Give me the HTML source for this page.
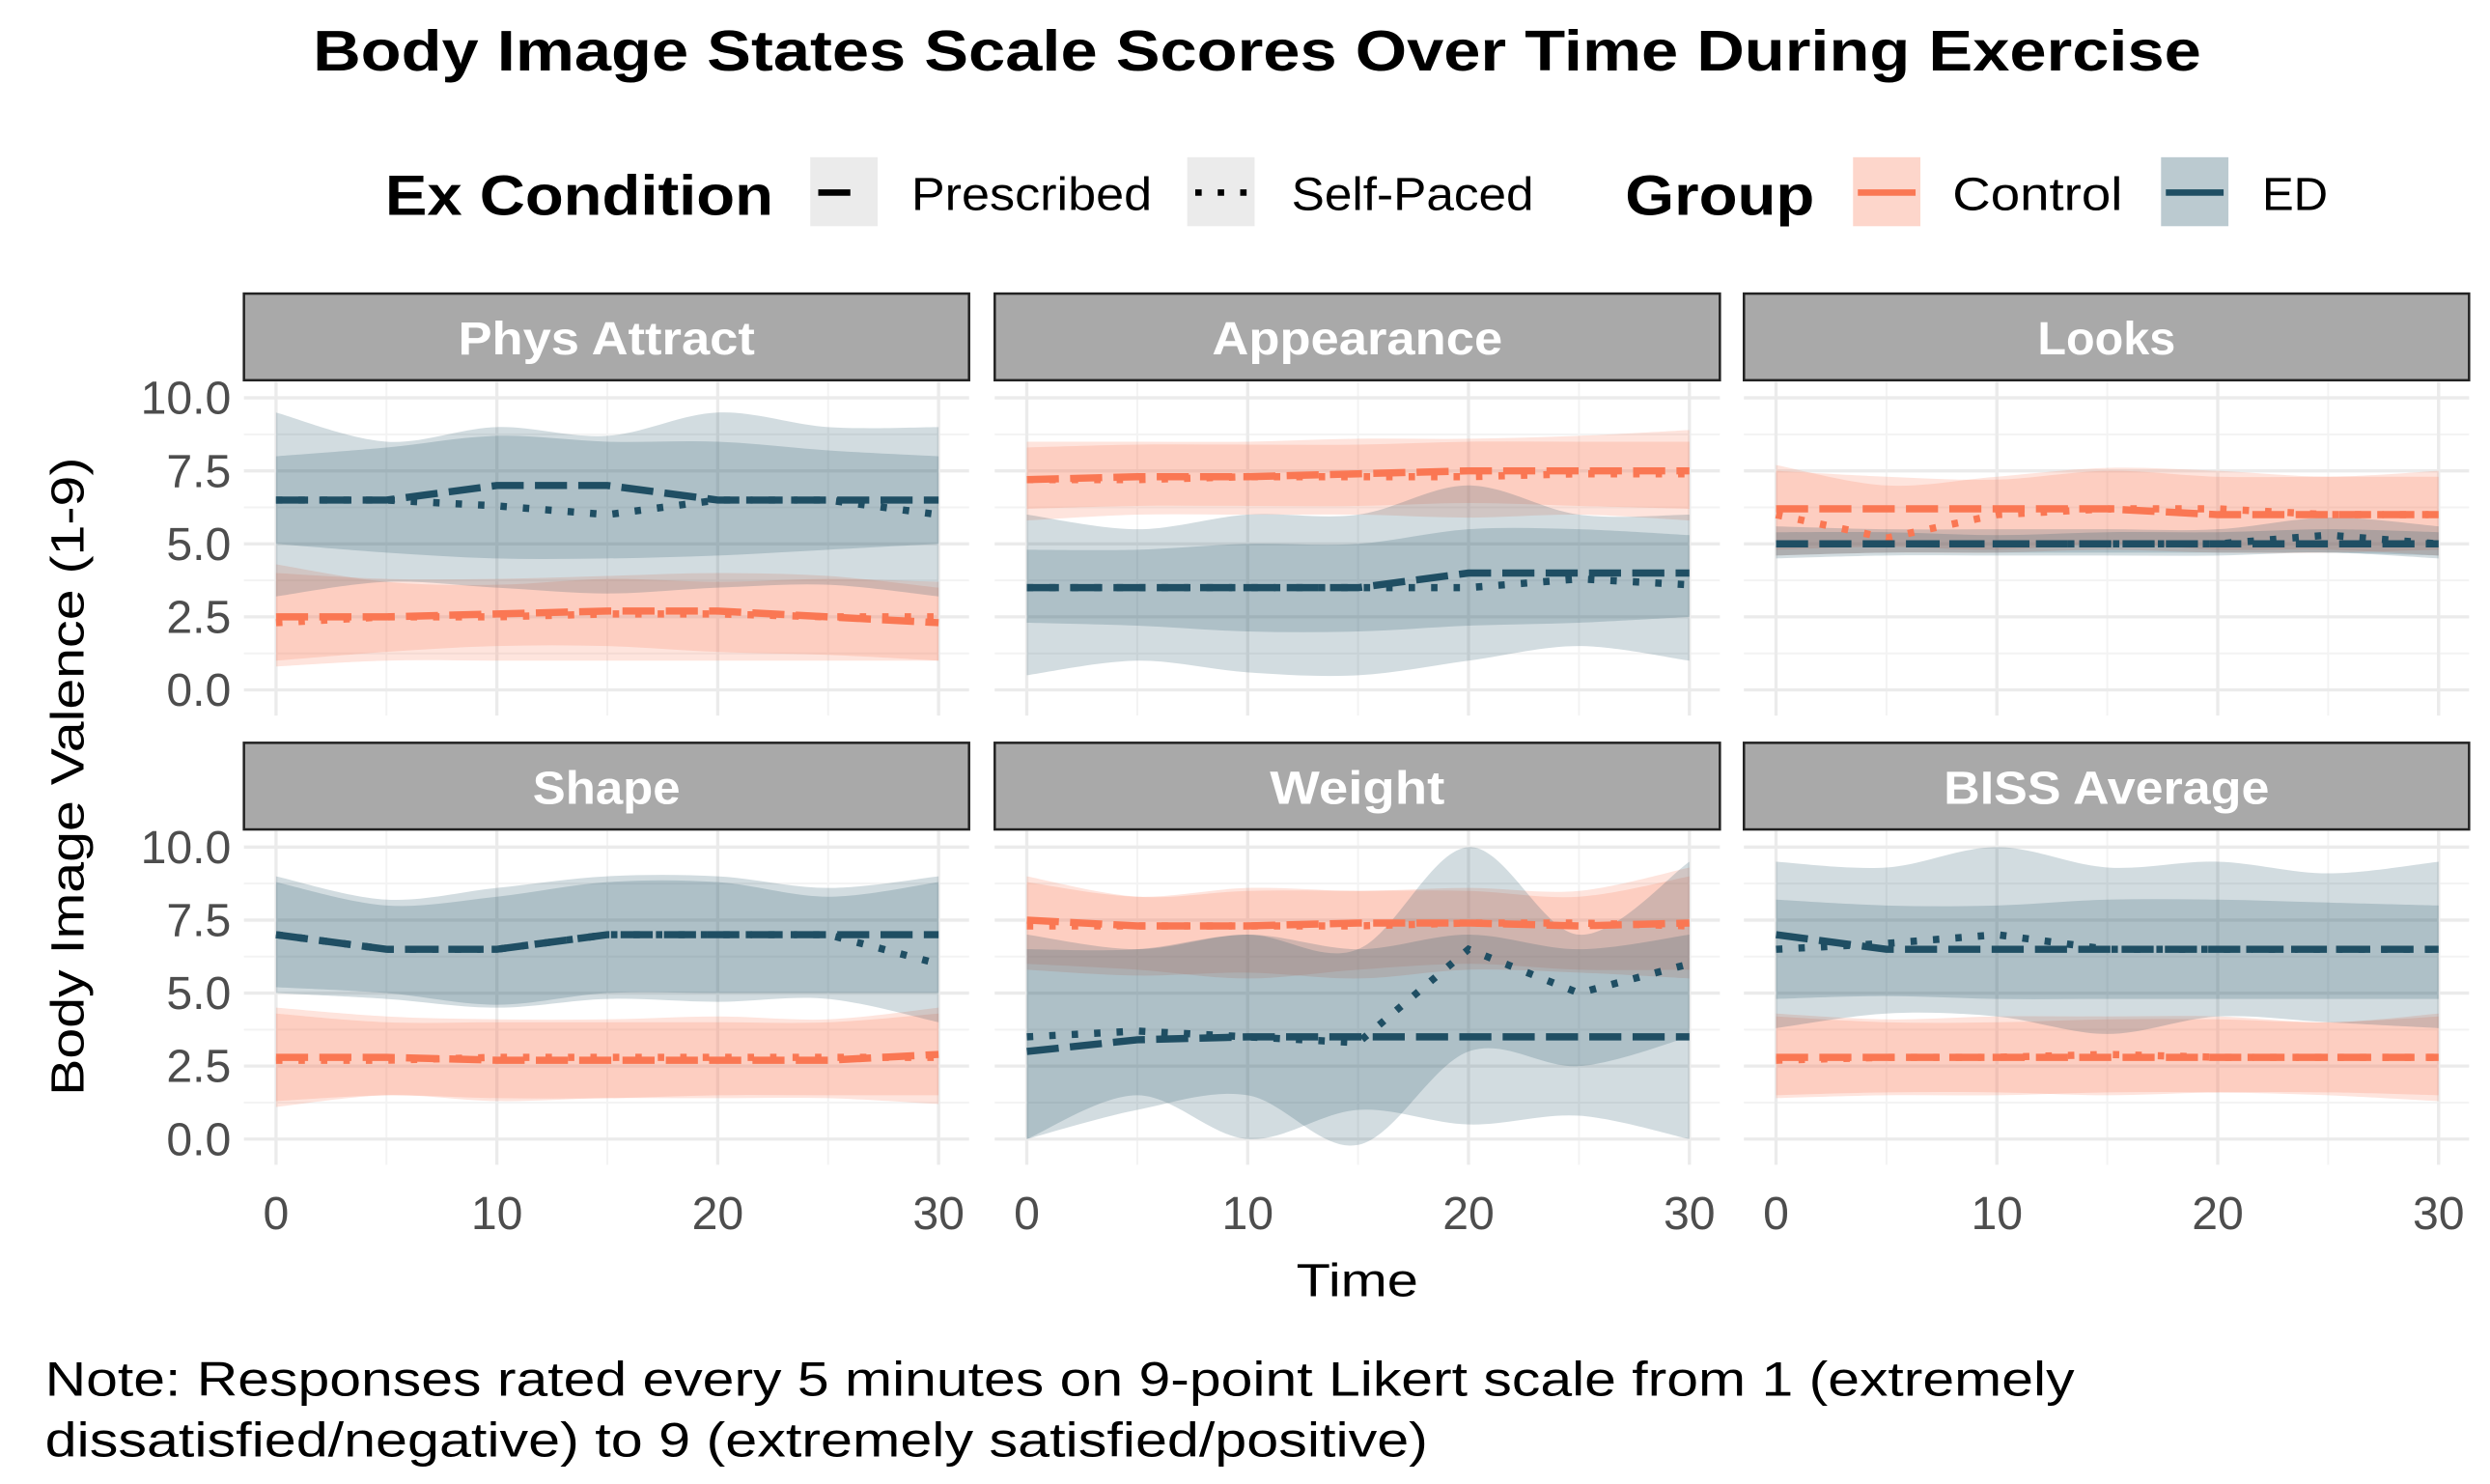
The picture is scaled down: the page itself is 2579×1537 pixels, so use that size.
<!DOCTYPE html>
<html><head><meta charset="utf-8"><style>
html,body{margin:0;padding:0;background:#fff}
svg{display:block}
text{font-family:"Liberation Sans",sans-serif}
</style></head><body>
<svg id="chart" width="2579" height="1537" viewBox="0 0 1552 925" xmlns="http://www.w3.org/2000/svg">
<text x="195" y="44" font-size="36" font-weight="bold" textLength="1177" lengthAdjust="spacingAndGlyphs">Body Image States Scale Scores Over Time During Exercise</text>
<g>
<text x="240" y="134" font-size="35" font-weight="bold" textLength="242" lengthAdjust="spacingAndGlyphs">Ex Condition</text>
<rect x="505" y="98" width="42" height="43" fill="#EBEBEB"/>
<line x1="510" y1="120" x2="530" y2="120" stroke="#000" stroke-width="4"/>
<text x="568" y="131" font-size="29" textLength="150" lengthAdjust="spacingAndGlyphs">Prescribed</text>
<rect x="740" y="98" width="42" height="43" fill="#EBEBEB"/>
<line x1="745" y1="120" x2="780" y2="120" stroke="#000" stroke-width="4" stroke-dasharray="4,10"/>
<text x="805" y="131" font-size="29" textLength="151" lengthAdjust="spacingAndGlyphs">Self-Paced</text>
<text x="1013" y="134" font-size="35" font-weight="bold" textLength="118" lengthAdjust="spacingAndGlyphs">Group</text>
<rect x="1155" y="98" width="42" height="43" fill="#FA7753" fill-opacity="0.3"/>
<line x1="1158" y1="120" x2="1194" y2="120" stroke="#FA7753" stroke-width="4"/>
<text x="1217" y="131" font-size="29" textLength="106" lengthAdjust="spacingAndGlyphs">Control</text>
<rect x="1347" y="98" width="42" height="43" fill="#1F4E63" fill-opacity="0.3"/>
<line x1="1350" y1="120" x2="1386" y2="120" stroke="#1F4E63" stroke-width="4"/>
<text x="1410" y="131" font-size="29" textLength="41" lengthAdjust="spacingAndGlyphs">ED</text>
</g>
<text transform="translate(52,683) rotate(-90)" font-size="29" textLength="398" lengthAdjust="spacingAndGlyphs">Body Image Valence (1-9)</text>
<text x="808" y="808" font-size="29" textLength="76" lengthAdjust="spacingAndGlyphs">Time</text>
<text x="28" y="870" font-size="30" textLength="1265" lengthAdjust="spacingAndGlyphs">Note: Responses rated every 5 minutes on 9-point Likert scale from 1 (extremely</text>
<text x="28" y="908" font-size="30" textLength="862" lengthAdjust="spacingAndGlyphs">dissatisfied/negative) to 9 (extremely satisfied/positive)</text>
<g id="panels"></g>
</svg>
<script>
const times=[0,5,10,15,20,25,30];
const panelNames=["Phys Attract","Appearance","Looks","Shape","Weight","BISS Average"];
const xTicks=[0,10,20,30];
const yTicks=[0,2.5,5,7.5,10];
const yTickLabels=["0.0","2.5","5.0","7.5","10.0"];
const meanCtrlPresc=[[2.5,2.5,2.6,2.7,2.7,2.5,2.3],[7.2,7.3,7.3,7.4,7.5,7.5,7.5],[6.2,6.2,6.2,6.2,6,6,6],[2.8,2.8,2.7,2.7,2.7,2.7,2.9],[7.5,7.3,7.3,7.4,7.4,7.3,7.4],[2.8,2.8,2.8,2.8,2.8,2.8,2.8]];
const meanCtrlSelf=[[2.3,2.5,2.5,2.6,2.6,2.5,2.5],[7.2,7.2,7.3,7.3,7.3,7.4,7.4],[6,5.2,6,6.2,6.2,6,6],[2.7,2.7,2.8,2.8,2.8,2.8,2.8],[7.3,7.3,7.3,7.3,7.4,7.4,7.3],[2.7,2.8,2.8,2.9,2.8,2.8,2.8]];
const meanEdPresc=[[6.5,6.5,7,7,6.5,6.5,6.5],[3.5,3.5,3.5,3.5,4,4,4],[5,5,5,5,5,5,5],[7,6.5,6.5,7,7,7,7],[3,3.4,3.5,3.5,3.5,3.5,3.5],[7,6.5,6.5,6.5,6.5,6.5,6.5]];
const meanEdSelf=[[6.5,6.5,6.3,6,6.5,6.5,6],[3.5,3.5,3.5,3.5,3.5,3.8,3.6],[5,5,5,5,5,5.3,5],[7,6.5,6.5,7,7,7,6],[3.5,3.7,3.5,3.3,6.5,5,6],[6.5,6.7,7,6.5,6.5,6.5,6.5]];
const loCtrlPresc=[[1,1.3,1.5,1.5,1.3,1.2,1],[6.2,6.3,6.3,6.3,6.4,6.3,6.2],[4.8,4.9,4.8,5,4.8,4.8,4.6],[1.3,1.5,1.4,1.4,1.5,1.5,1.5],[6,5.8,5.5,5.8,6,5.8,5.8],[1.5,1.6,1.6,1.5,1.6,1.6,1.5]];
const hiCtrlPresc=[[4,3.8,3.8,3.9,4,3.9,3.5],[8.3,8.4,8.4,8.4,8.5,8.5,8.5],[7.5,7.3,7.2,7.5,7.3,7.3,7.3],[4.3,4,4,4,4,4,4.3],[9,8.3,8.5,8.5,8.5,8.3,9],[4.2,4,4,4.1,4.1,4,4.2]];
const loCtrlSelf=[[0.8,1,1,1,1,1,1],[5.8,6,6,6,5.9,6,5.8],[4.6,4.7,4.7,4.8,4.7,4.7,4.8],[1.1,1.5,1.3,1.4,1.4,1.4,1.2],[5.8,5.6,5.7,5.5,5.8,5.7,5.5],[1.4,1.5,1.5,1.6,1.6,1.5,1.3]];
const hiCtrlSelf=[[4.3,3.7,3.6,3.8,3.7,3.8,3.7],[8.5,8.5,8.5,8.6,8.6,8.7,8.9],[7.7,7,7.3,7.6,7.5,7.3,7.5],[4.5,4.2,4.1,4.1,4.2,4.1,4.5],[8.8,8.3,8.6,8.5,8.6,8.5,9.3],[4.3,4.1,4.2,4.2,4.2,4,4.3]];
const loEdPresc=[[5,4.7,4.5,4.5,4.6,4.8,5],[2.3,2.2,2,2,2.2,2.3,2.5],[4.6,4.7,4.7,4.7,4.7,4.7,4.6],[5.2,5,4.6,5,5,5,5],[0,1.5,0,1,0.5,0.8,0],[4.8,4.9,4.8,4.8,4.8,4.8,4.8]];
const hiEdPresc=[[8,8.3,8.7,8.5,8.5,8.2,8],[4.8,4.8,5,5,5.5,5.5,5.3],[5.4,5.4,5.3,5.4,5.4,5.5,5.4],[8.8,8,8.3,8.8,8.8,8.3,8.8],[7,6.5,7,6.5,7,6.5,7],[8.2,8,8,8.2,8.2,8.1,8]];
const loEdSelf=[[3.2,3.7,3.5,3.3,3.5,3.6,3.2],[0.5,1,0.6,0.5,1,1.5,1],[4.5,4.6,4.6,4.6,4.6,4.7,4.5],[5,4.8,4.5,4.8,4.7,4.8,4],[0,1,1.5,-0.2,3,2.5,3.5],[3.8,4.3,4.2,3.6,4.2,4,3.8]];
const hiEdSelf=[[9.5,8.5,9,8.7,9.5,9,9],[6,5.5,6,6,7,6,6],[5.6,5.5,5.5,5.5,5.5,5.9,5.6],[9,8.2,8.6,9,9,8.6,9],[6.5,6.5,7,6.5,10,7,9.5],[9.5,9.3,10,9.3,9.5,9.1,9.5]];

const NS="http://www.w3.org/2000/svg";
const root=document.getElementById('panels');
const colX=[152,620,1087], pw=452, rowTop=[183,463];
const stripLen=[185,181,86,92,109,203];
const CTRL="#FA7753", ED="#1F4E63";
function mk(tag,attrs,parent){const e=document.createElementNS(NS,tag);for(const k in attrs)e.setAttribute(k,attrs[k]);parent.appendChild(e);return e;}
function smooth(pts){let d="M"+pts[0][0]+","+pts[0][1];for(let i=0;i<pts.length-1;i++){const p0=pts[Math.max(0,i-1)],p1=pts[i],p2=pts[i+1],p3=pts[Math.min(pts.length-1,i+2)];const c1=[p1[0]+(p2[0]-p0[0])/6,p1[1]+(p2[1]-p0[1])/6],c2=[p2[0]-(p3[0]-p1[0])/6,p2[1]-(p3[1]-p1[1])/6];d+=" C"+c1+" "+c2+" "+p2;}return d;}
panelNames.forEach((name,p)=>{
  const c=p%3,r=Math.floor(p/3);
  const x0=colX[c], top=rowTop[r];
  const xs=t=>x0+20+t*(413/30);
  const ys=v=>top+247-v*18.2;
  const g=mk('g',{},root);
  
  
  [5,15,25].forEach(t=>{mk('line',{x1:xs(t),x2:xs(t),y1:top+55,y2:top+263,stroke:'#F3F3F3','stroke-width':1.2},g);});
  [1.25,3.75,6.25,8.75].forEach(v=>{mk('line',{x1:x0,x2:x0+pw,y1:ys(v),y2:ys(v),stroke:'#F3F3F3','stroke-width':1.2},g);});
  xTicks.forEach(t=>{const l=mk('line',{x1:xs(t),x2:xs(t),y1:top+55,y2:top+263,stroke:'#EBEBEB','stroke-width':2},g);
    
    });
  yTicks.forEach(v=>{const l=mk('line',{x1:x0,x2:x0+pw,y1:ys(v),y2:ys(v),stroke:'#EBEBEB','stroke-width':2},g);
    
    });
  const s=mk('rect',{x:x0,y:top,width:pw,height:54,fill:'#A9A9A9',stroke:'#222','stroke-width':1.5},g);
  
  
  const st=mk('text',{x:x0+pw/2-stripLen[p]/2,y:top+38,'font-size':29,'font-weight':'bold',fill:'#fff',textLength:stripLen[p],lengthAdjust:'spacingAndGlyphs'},g);
  st.textContent=name;
  
  
  const series=[
    [meanCtrlSelf[p],loCtrlSelf[p],hiCtrlSelf[p],CTRL,'4,10','control-self-paced'],
    [meanCtrlPresc[p],loCtrlPresc[p],hiCtrlPresc[p],CTRL,'20,7','control-prescribed'],
    [meanEdSelf[p],loEdSelf[p],hiEdSelf[p],ED,'4,10','ed-self-paced'],
    [meanEdPresc[p],loEdPresc[p],hiEdPresc[p],ED,'20,7','ed-prescribed']];
  series.forEach(sr=>{
    const up=times.map((t,i)=>[xs(t),ys(sr[2][i])]);
    const lo=times.map((t,i)=>[xs(t),ys(sr[1][i])]).reverse();
    const d=smooth(up)+" L"+smooth(lo).slice(1)+" Z";
    const rb=mk('path',{d:d,fill:sr[3],'fill-opacity':0.2,stroke:'none'},g);
    
    
  });
  series.forEach(sr=>{
    const pts=times.map((t,i)=>xs(t)+","+ys(sr[0][i])).join(" ");
    const ln=mk('polyline',{points:pts,fill:'none',stroke:sr[3],'stroke-width':4.5,'stroke-dasharray':sr[4]},g);
    
    
  });
  if(c===0){yTicks.forEach((v,i)=>{const t=mk('text',{x:x0-8,y:ys(v)+10,'text-anchor':'end','font-size':29,fill:'#4D4D4D'},g);t.textContent=yTickLabels[i];
    
    });}
  if(r===1){xTicks.forEach(v=>{const t=mk('text',{x:xs(v),y:766,'text-anchor':'middle','font-size':29,fill:'#4D4D4D'},g);t.textContent=v;
    
    });}
});
</script>
</body></html>
